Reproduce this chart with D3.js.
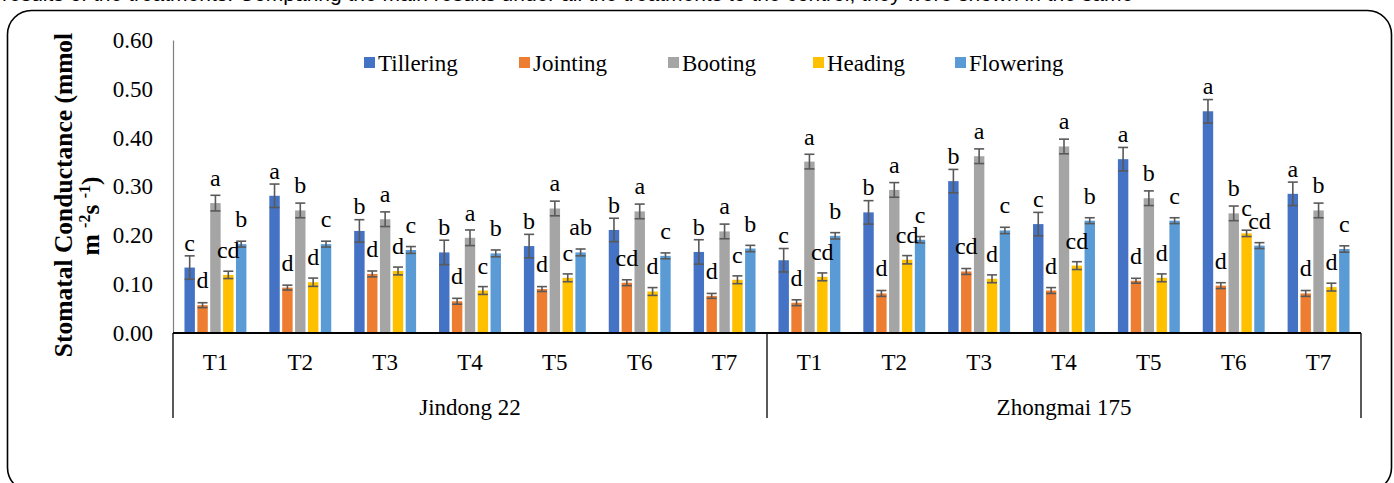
<!DOCTYPE html>
<html>
<head>
<meta charset="utf-8">
<script src="https://cdn.jsdelivr.net/npm/d3@7"></script>
<style>
  html, body { margin: 0; padding: 0; background: #fff; }
  svg { display: block; }
</style>
</head>
<body>
<svg id="chart" width="1394" height="483"></svg>
<script>
// ---------- data ----------
const varieties = ["Jindong 22", "Zhongmai 175"];
const treatments = ["T1", "T2", "T3", "T4", "T5", "T6", "T7"];
const seriesNames = ["Tillering", "Jointing", "Booting", "Heading", "Flowering"];
const seriesColors = ["#4472C4", "#ED7D31", "#A5A5A5", "#FFC000", "#5B9BD5"];
const yTicks = [0, 0.1, 0.2, 0.3, 0.4, 0.5, 0.6];

// values: Jindong 22 T1..T7, then Zhongmai 175 T1..T7
const tillering = [0.134, 0.281, 0.209, 0.165, 0.178, 0.211, 0.166, 0.149, 0.247, 0.311, 0.223, 0.356, 0.454, 0.285];
const jointing  = [0.057, 0.093, 0.121, 0.065, 0.090, 0.103, 0.076, 0.062, 0.081, 0.126, 0.087, 0.107, 0.097, 0.081];
const booting   = [0.266, 0.251, 0.233, 0.195, 0.255, 0.249, 0.208, 0.351, 0.293, 0.362, 0.382, 0.276, 0.245, 0.251];
const heading   = [0.119, 0.104, 0.127, 0.087, 0.113, 0.085, 0.109, 0.115, 0.150, 0.111, 0.138, 0.113, 0.204, 0.094];
const flowering = [0.182, 0.182, 0.170, 0.163, 0.165, 0.158, 0.173, 0.199, 0.191, 0.210, 0.230, 0.230, 0.179, 0.172];

const tilleringErr = [0.024, 0.024, 0.023, 0.025, 0.024, 0.024, 0.025, 0.024, 0.024, 0.024, 0.024, 0.024, 0.024, 0.024];
const jointingErr  = [0.005, 0.005, 0.006, 0.006, 0.005, 0.006, 0.005, 0.006, 0.006, 0.006, 0.006, 0.005, 0.006, 0.006];
const bootingErr   = [0.016, 0.015, 0.015, 0.016, 0.015, 0.015, 0.015, 0.015, 0.015, 0.015, 0.015, 0.015, 0.015, 0.015];
const headingErr   = [0.0075, 0.0085, 0.008, 0.008, 0.008, 0.008, 0.008, 0.008, 0.0085, 0.008, 0.008, 0.008, 0.0065, 0.008];
const floweringErr = [0.006, 0.006, 0.007, 0.007, 0.007, 0.006, 0.0065, 0.0065, 0.0065, 0.0065, 0.006, 0.006, 0.006, 0.0065];

const tilleringLbl = ["c", "a", "b", "b", "b", "b", "b", "c", "b", "b", "c", "a", "a", "a"];
const jointingLbl  = ["d", "d", "d", "d", "d", "cd", "d", "d", "d", "cd", "d", "d", "d", "d"];
const bootingLbl   = ["a", "b", "a", "a", "a", "a", "a", "a", "a", "a", "a", "b", "b", "b"];
const headingLbl   = ["cd", "d", "d", "c", "c", "d", "c", "cd", "cd", "d", "cd", "d", "c", "d"];
const floweringLbl = ["b", "c", "c", "b", "ab", "c", "b", "b", "c", "c", "b", "c", "cd", "c"];

const seriesValues = [tillering, jointing, booting, heading, flowering];
const seriesErrors = [tilleringErr, jointingErr, bootingErr, headingErr, floweringErr];
const seriesLabels = [tilleringLbl, jointingLbl, bootingLbl, headingLbl, floweringLbl];

// ---------- layout ----------
const svg = d3.select("#chart");
const serif = "'Liberation Serif', 'Times New Roman', serif";
const pLeft = 173, pRight = 1361, pTop = 40, pBottom = 333;

const cats = [];
varieties.forEach((v, vi) => treatments.forEach(t => cats.push(vi + "|" + t)));

const x0 = d3.scaleBand().domain(cats).range([pLeft, pRight]).paddingInner(0).paddingOuter(0);
const bw = x0.bandwidth();
const groupW = bw * 0.745;
const x1 = d3.scaleBand().domain(seriesNames).range([(bw - groupW) / 2, (bw + groupW) / 2]).paddingInner(0.19).paddingOuter(0.05);
const y = d3.scaleLinear().domain([0, 0.6]).range([pBottom, pTop]);

// top caption (cut off by the image edge in the reference)
svg.append("text")
  .attr("x", 2).attr("y", 1)
  .attr("font-family", "'Liberation Sans', Arial, sans-serif")
  .attr("font-size", 21).attr("fill", "#000")
  .text("results of the treatments. Comparing the main results under all the treatments to the control, they were shown in the same");

// frame
svg.append("rect")
  .attr("x", 7.5).attr("y", 10.5).attr("width", 1384).attr("height", 481)
  .attr("rx", 24).attr("ry", 24)
  .attr("fill", "none").attr("stroke", "#000").attr("stroke-width", 1.6);

// y axis
const yAxis = d3.axisLeft(y).tickValues(yTicks).tickFormat(d3.format(".2f")).tickSize(0).tickPadding(20);
const gy = svg.append("g").attr("transform", `translate(${pLeft},0)`).call(yAxis);
gy.select(".domain").attr("stroke", "#7f7f7f").attr("stroke-width", 1.2);
gy.selectAll("text").attr("font-family", serif).attr("font-size", 23).attr("fill", "#000");

// bars
const cg = svg.append("g").selectAll("g").data(cats).join("g")
  .attr("transform", d => `translate(${x0(d)},0)`);

seriesNames.forEach((s, si) => {
  cg.append("rect")
    .attr("x", x1(s))
    .attr("width", x1.bandwidth())
    .attr("y", (d, i) => y(seriesValues[si][i]))
    .attr("height", (d, i) => y(0) - y(seriesValues[si][i]))
    .attr("fill", seriesColors[si]);
});

// error bars
const cap = 5;
seriesNames.forEach((s, si) => {
  const cx = x1(s) + x1.bandwidth() / 2;
  const eb = cg.append("g").attr("stroke", "#595959").attr("stroke-width", 1.6).attr("fill", "none");
  eb.append("line").attr("x1", cx).attr("x2", cx)
    .attr("y1", (d, i) => y(seriesValues[si][i] + seriesErrors[si][i]))
    .attr("y2", (d, i) => y(seriesValues[si][i] - seriesErrors[si][i]));
  eb.append("line").attr("x1", cx - cap).attr("x2", cx + cap)
    .attr("y1", (d, i) => y(seriesValues[si][i] + seriesErrors[si][i]))
    .attr("y2", (d, i) => y(seriesValues[si][i] + seriesErrors[si][i]));
  eb.append("line").attr("x1", cx - cap).attr("x2", cx + cap)
    .attr("y1", (d, i) => y(seriesValues[si][i] - seriesErrors[si][i]))
    .attr("y2", (d, i) => y(seriesValues[si][i] - seriesErrors[si][i]));
});

// significance letters
seriesNames.forEach((s, si) => {
  const cx = x1(s) + x1.bandwidth() / 2;
  cg.append("text")
    .attr("x", cx)
    .attr("y", (d, i) => y(seriesValues[si][i]) - 17)
    .attr("text-anchor", "middle")
    .attr("font-family", serif).attr("font-size", 24).attr("fill", "#000")
    .text((d, i) => seriesLabels[si][i]);
});

// x axis (multi-level)
const ax = svg.append("g").attr("stroke", "#000").attr("stroke-width", 1.3);
ax.append("line").attr("x1", pLeft).attr("x2", pRight).attr("y1", pBottom).attr("y2", pBottom).attr("stroke-width", 1.8);
const sepX = [pLeft, x0(cats[7]), pRight];
ax.selectAll("line.sep").data(sepX).join("line").attr("class", "sep")
  .attr("x1", d => d).attr("x2", d => d).attr("y1", pBottom).attr("y2", 418);

svg.append("g").selectAll("text").data(cats).join("text")
  .attr("x", d => x0(d) + bw / 2).attr("y", 370)
  .attr("text-anchor", "middle")
  .attr("font-family", serif).attr("font-size", 23).attr("fill", "#000")
  .text(d => d.split("|")[1]);

svg.append("g").selectAll("text").data(varieties).join("text")
  .attr("x", (d, vi) => (x0(cats[vi * 7]) + x0(cats[vi * 7 + 6]) + bw) / 2).attr("y", 415)
  .attr("text-anchor", "middle")
  .attr("font-family", serif).attr("font-size", 23).attr("fill", "#000")
  .text(d => d);

// y axis title
svg.append("text")
  .attr("transform", "translate(72,195) rotate(-90)")
  .attr("text-anchor", "middle")
  .attr("font-family", serif).attr("font-size", 25.5).attr("font-weight", "bold").attr("fill", "#000")
  .text("Stomatal Conductance (mmol");
const t2 = svg.append("text")
  .attr("transform", "translate(99,216) rotate(-90)")
  .attr("text-anchor", "middle")
  .attr("font-family", serif).attr("font-size", 25.5).attr("font-weight", "bold").attr("fill", "#000");
t2.append("tspan").text("m ");
t2.append("tspan").attr("font-size", 16).attr("dy", -9).text("-2");
t2.append("tspan").attr("dy", 9).text("s ");
t2.append("tspan").attr("font-size", 16).attr("dy", -9).text("-1");
t2.append("tspan").attr("dy", 9).text(")");

// legend
const legX = [364, 519, 668, 813, 955];
const lg = svg.append("g").selectAll("g").data(seriesNames).join("g")
  .attr("transform", (d, i) => `translate(${legX[i]},63)`);
lg.append("rect").attr("x", 0).attr("y", -6).attr("width", 11).attr("height", 11)
  .attr("fill", (d, i) => seriesColors[i]);
lg.append("text").attr("x", 14).attr("y", 8)
  .attr("font-family", serif).attr("font-size", 23).attr("fill", "#000")
  .text(d => d);
</script>
</body>
</html>
